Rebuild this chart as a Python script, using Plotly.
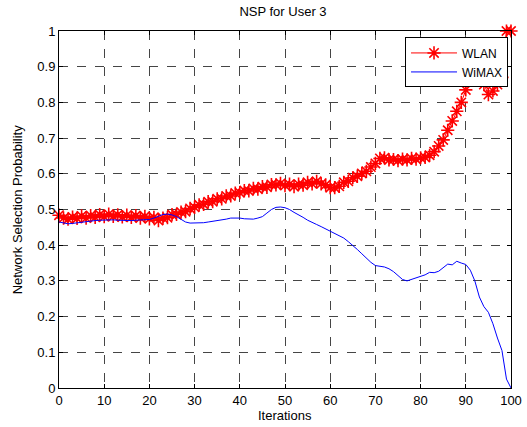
import plotly.graph_objects as go

# iteracoes 0..100
iterations = list(range(0, 101))

wlan = [
    0.484, 0.476, 0.473, 0.479, 0.475, 0.482, 0.476, 0.483, 0.478, 0.486,
    0.480, 0.487, 0.481, 0.485, 0.479, 0.484, 0.478, 0.483, 0.476, 0.481,
    0.474, 0.478, 0.469, 0.476, 0.477, 0.486, 0.486, 0.493, 0.494, 0.503,
    0.506, 0.513, 0.514, 0.522, 0.522, 0.530, 0.530, 0.538, 0.538, 0.546,
    0.547, 0.553, 0.552, 0.559, 0.557, 0.564, 0.562, 0.570, 0.569, 0.573,
    0.567, 0.571, 0.564, 0.571, 0.568, 0.576, 0.572, 0.579, 0.572, 0.569,
    0.561, 0.561, 0.565, 0.576, 0.579, 0.589, 0.593, 0.601, 0.607, 0.619,
    0.629, 0.643, 0.645, 0.639, 0.640, 0.637, 0.641, 0.639, 0.643, 0.641,
    0.645, 0.646, 0.652, 0.662, 0.678, 0.695, 0.722, 0.748, 0.775, 0.800,
    0.835, 0.862, 0.885, 0.880, 0.850, 0.822, 0.832, 0.850, 0.870, 1.000,
    1.000,
]

wimax = [
    0.465, 0.462, 0.460, 0.461, 0.463, 0.465, 0.467, 0.468, 0.469, 0.470,
    0.471, 0.471, 0.471, 0.470, 0.469, 0.469, 0.469, 0.470, 0.470, 0.470,
    0.472, 0.476, 0.481, 0.486, 0.487, 0.485, 0.480, 0.472, 0.465, 0.462,
    0.462, 0.462, 0.463, 0.465, 0.467, 0.468, 0.469, 0.473, 0.476, 0.477,
    0.476, 0.474, 0.473, 0.473, 0.476, 0.480, 0.490, 0.500, 0.506, 0.507,
    0.505, 0.500, 0.492, 0.486, 0.478, 0.470, 0.463, 0.458, 0.452, 0.446,
    0.440, 0.434, 0.428, 0.420, 0.410, 0.400, 0.388, 0.376, 0.364, 0.352,
    0.343, 0.341, 0.339, 0.334, 0.326, 0.315, 0.304, 0.300, 0.304, 0.308,
    0.312, 0.317, 0.324, 0.323, 0.327, 0.336, 0.347, 0.345, 0.355, 0.350,
    0.346, 0.330, 0.300, 0.255, 0.228, 0.212, 0.180, 0.140, 0.105, 0.025,
    0.000,
]

x_ticks = list(range(0, 101, 10))
y_ticks = [round(i * 0.1, 1) for i in range(11)]

FONT = "Liberation Sans, Arial, sans-serif"
GRID = "#454545"

fig = go.Figure()

fig.add_trace(go.Scatter(
    x=iterations, y=wlan, name="WLAN",
    mode="lines+markers",
    line=dict(color="#ff0000", width=1),
    marker=dict(symbol="asterisk-open", size=11, color="#ff0000",
                line=dict(color="#ff0000", width=1.6)),
    cliponaxis=False,
))

fig.add_trace(go.Scatter(
    x=iterations, y=wimax, name="WiMAX",
    mode="lines",
    line=dict(color="#0000ff", width=1),
))

axis_common = dict(
    showline=True, linecolor="black", linewidth=1, mirror="ticks",
    ticks="inside", ticklen=4, tickcolor="black",
    showgrid=True, gridcolor=GRID, gridwidth=1, griddash="dash",
    zeroline=False, automargin=False,
    tickfont=dict(family=FONT, size=13, color="black"),
)

fig.update_xaxes(range=[0, 100], tickvals=x_ticks, **axis_common)
fig.update_yaxes(range=[0, 1], tickvals=y_ticks, **axis_common)

# titulos dos eixos como anotacoes para posicionar como no original
fig.add_annotation(text="Iterations", xref="paper", yref="paper",
                   x=0.5, y=-0.076, xanchor="center", yanchor="middle",
                   showarrow=False, font=dict(family=FONT, size=13, color="black"))
fig.add_annotation(text="Network Selection Probability", xref="paper", yref="paper",
                   x=-0.091, y=0.5, xanchor="center", yanchor="middle", textangle=-90,
                   showarrow=False, font=dict(family=FONT, size=13, color="black"))

fig.update_layout(
    width=527, height=427, autosize=False,
    margin=dict(l=59, r=16, t=31, b=39),
    paper_bgcolor="white", plot_bgcolor="white",
    title=dict(text="NSP for User 3", x=0.537, xanchor="center", y=0.974, yanchor="middle",
               pad=dict(t=0, b=0), font=dict(family=FONT, size=13, color="black")),
    font=dict(family=FONT, size=13, color="black"),
    legend=dict(
        x=0.9934, xanchor="right", y=0.982, yanchor="top",
        bgcolor="white", bordercolor="black", borderwidth=1,
        font=dict(family=FONT, size=12, color="black"),
        itemwidth=46, tracegroupgap=0,
    ),
    showlegend=True,
)

# remove a margem padrao do body para alinhar com a janela
fig.write_html(
    "out.html",
    config={"responsive": False, "displayModeBar": False},
    post_script="document.body.style.margin='0';",
)
